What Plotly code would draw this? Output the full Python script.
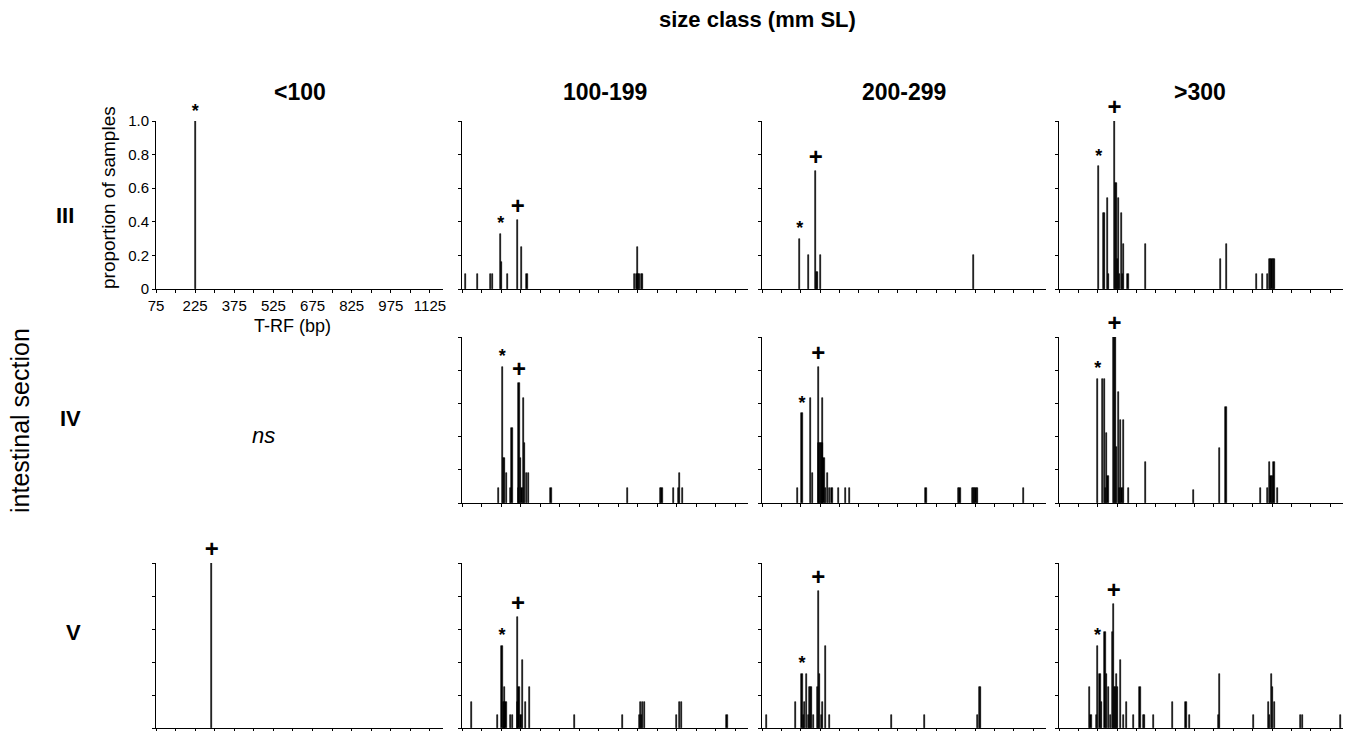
import plotly.graph_objects as go
from plotly.subplots import make_subplots

W, H = 1354, 731

row_labels = ["III", "IV", "V"]
col_labels = ["<100", "100-199", "200-299", ">300"]

x_tickvals = [75, 150, 225, 300, 375, 450, 525, 600, 675, 750, 825, 900, 975, 1050, 1125]
x_ticktext = ["75", "", "225", "", "375", "", "525", "", "675", "", "825", "", "975", "", "1125"]
y_tickvals = [0, 0.2, 0.4, 0.6, 0.8, 1.0]
y_ticktext = ["0", "0.2", "0.4", "0.6", "0.8", "1.0"]

# ---- section III ----
bp_III_lt100 = [225]
h_III_lt100 = [1.0]
bp_III_100 = [87, 135, 183, 193, 224, 228, 250, 289, 303, 325, 738, 748, 751, 754, 759, 764, 768]
h_III_100 = [0.09, 0.09, 0.09, 0.09, 0.33, 0.16, 0.09, 0.41, 0.25, 0.09, 0.09, 0.09, 0.25, 0.09, 0.09, 0.09, 0.09]
bp_III_200 = [221, 256, 283, 286, 290, 301, 894]
h_III_200 = [0.30, 0.20, 0.70, 0.10, 0.10, 0.20, 0.20]
bp_III_300 = [229, 247, 252, 263, 267, 290, 294, 298, 301, 306, 310, 317, 321, 326, 342, 410, 702, 725, 840, 863, 884, 890, 895, 900, 905, 910]
h_III_300 = [0.73, 0.45, 0.45, 0.54, 0.09, 1.0, 0.63, 0.63, 0.18, 0.54, 0.09, 0.45, 0.09, 0.27, 0.09, 0.27, 0.18, 0.27, 0.09, 0.09, 0.09, 0.18, 0.18, 0.18, 0.18, 0.18]

# ---- section IV ----
bp_IV_100 = [215, 230, 234, 238, 247, 263, 267, 292, 294, 299, 306, 311, 316, 322, 331, 417, 710, 839, 844, 887, 908, 913, 922]
h_IV_100 = [0.09, 0.82, 0.27, 0.27, 0.18, 0.09, 0.45, 0.09, 0.72, 0.27, 0.09, 0.63, 0.36, 0.18, 0.18, 0.09, 0.09, 0.09, 0.09, 0.09, 0.09, 0.18, 0.09]
bp_IV_200 = [212, 230, 263, 272, 293, 296, 300, 304, 308, 310, 315, 321, 330, 337, 346, 370, 399, 415, 710, 837, 842, 889, 894, 899, 904, 910, 1089]
h_IV_200 = [0.09, 0.54, 0.63, 0.18, 0.82, 0.36, 0.36, 0.36, 0.36, 0.63, 0.27, 0.09, 0.18, 0.09, 0.09, 0.09, 0.09, 0.09, 0.09, 0.09, 0.09, 0.09, 0.09, 0.09, 0.09, 0.09, 0.09]
bp_IV_300 = [225, 243, 250, 254, 260, 265, 287, 290, 293, 299, 304, 308, 313, 319, 326, 345, 411, 597, 698, 722, 857, 883, 890, 896, 902, 908, 920]
h_IV_300 = [0.75, 0.75, 0.75, 0.09, 0.42, 0.16, 1.0, 1.0, 1.0, 0.34, 0.67, 0.09, 0.50, 0.09, 0.50, 0.09, 0.25, 0.08, 0.33, 0.58, 0.09, 0.09, 0.25, 0.16, 0.16, 0.25, 0.09]

# ---- section V ----
bp_V_lt100 = [289]
h_V_lt100 = [1.0]
bp_V_100 = [111, 212, 229, 233, 238, 240, 244, 261, 269, 288, 290, 294, 302, 307, 319, 335, 508, 693, 757, 761, 765, 769, 776, 899, 912, 918, 1094]
h_V_100 = [0.16, 0.08, 0.50, 0.16, 0.16, 0.25, 0.16, 0.08, 0.08, 0.16, 0.67, 0.25, 0.08, 0.41, 0.16, 0.25, 0.08, 0.08, 0.08, 0.16, 0.08, 0.16, 0.16, 0.08, 0.16, 0.16, 0.08]
bp_V_200 = [93, 206, 230, 235, 240, 246, 255, 258, 262, 266, 275, 290, 293, 298, 306, 310, 321, 337, 575, 706, 911, 916, 921]
h_V_200 = [0.08, 0.16, 0.33, 0.08, 0.16, 0.33, 0.08, 0.25, 0.25, 0.25, 0.08, 0.25, 0.83, 0.33, 0.08, 0.16, 0.50, 0.08, 0.08, 0.08, 0.08, 0.25, 0.25]
bp_V_300 = [194, 199, 219, 224, 234, 239, 253, 258, 267, 274, 283, 287, 290, 295, 298, 302, 312, 324, 337, 362, 389, 401, 406, 440, 516, 567, 579, 693, 696, 828, 885, 890, 899, 903, 911, 1010, 1017, 1165]
h_V_300 = [0.25, 0.08, 0.08, 0.50, 0.33, 0.16, 0.58, 0.33, 0.25, 0.08, 0.58, 0.75, 0.25, 0.25, 0.33, 0.25, 0.41, 0.08, 0.16, 0.08, 0.25, 0.08, 0.08, 0.08, 0.16, 0.16, 0.08, 0.08, 0.33, 0.08, 0.16, 0.08, 0.33, 0.25, 0.16, 0.08, 0.08, 0.08]

# marked peaks (T-RF bp): "*" and "+"
star_bp = {(1, 1): 225, (1, 2): 224, (1, 3): 221, (1, 4): 229,
           (2, 2): 230, (2, 3): 230, (2, 4): 225,
           (3, 2): 229, (3, 3): 230, (3, 4): 224}
plus_bp = {(1, 2): 289, (1, 3): 283, (1, 4): 290,
           (2, 2): 294, (2, 3): 293, (2, 4): 290,
           (3, 1): 289, (3, 2): 290, (3, 3): 293, (3, 4): 287}

panels = {
    (1, 1): (bp_III_lt100, h_III_lt100),
    (1, 2): (bp_III_100, h_III_100),
    (1, 3): (bp_III_200, h_III_200),
    (1, 4): (bp_III_300, h_III_300),
    (2, 2): (bp_IV_100, h_IV_100),
    (2, 3): (bp_IV_200, h_IV_200),
    (2, 4): (bp_IV_300, h_IV_300),
    (3, 1): (bp_V_lt100, h_V_lt100),
    (3, 2): (bp_V_100, h_V_100),
    (3, 3): (bp_V_200, h_V_200),
    (3, 4): (bp_V_300, h_V_300),
}

# panel frames in page pixels
col_px = [(156, 443), (462, 748), (762, 1046), (1059, 1343)]
row_px = [(121, 289), (337, 503), (563, 728)]

FONT = "Liberation Sans, Arial, sans-serif"


def fx(px):
    return px / W


def fy(py):
    return 1 - py / H


fig = make_subplots(rows=3, cols=4)

for (r, c), (bps, hs) in panels.items():
    fig.add_trace(go.Bar(x=bps, y=hs, width=4.5,
                         marker=dict(color="black", line=dict(color="black", width=0.6)),
                         showlegend=False, hoverinfo="x+y"), row=r, col=c)
    lookup = {}
    for b, h in zip(bps, hs):
        lookup[b] = max(lookup.get(b, 0), h)
    if (r, c) in star_bp:
        b = star_bp[(r, c)]
        fig.add_trace(go.Scatter(x=[b], y=[lookup[b]], mode="text", text=["<b>*</b>"],
                                 textposition="top center", cliponaxis=False,
                                 textfont=dict(family=FONT, size=18, color="black"),
                                 showlegend=False, hoverinfo="skip"), row=r, col=c)
    if (r, c) in plus_bp:
        b = plus_bp[(r, c)]
        fig.add_trace(go.Scatter(x=[b], y=[lookup[b]], mode="text", text=["<b>+</b>"],
                                 textposition="top center", cliponaxis=False,
                                 textfont=dict(family=FONT, size=24, color="black"),
                                 showlegend=False, hoverinfo="skip"), row=r, col=c)

for r in range(1, 4):
    for c in range(1, 5):
        x0, x1 = col_px[c - 1]
        y0, y1 = row_px[r - 1]
        xd = [fx(x0), fx(x1)]
        yd = [fy(y1), fy(y0)]
        labeled = (r == 1 and c == 1)
        empty = (r == 2 and c == 1)
        fig.update_xaxes(domain=xd, range=[75, 1175], showgrid=False, zeroline=False,
                         automargin=False,
                         showline=not empty, linecolor="black", linewidth=1,
                         ticks="" if empty else "outside", ticklen=3, tickwidth=1, tickcolor="black",
                         tickvals=x_tickvals, ticktext=x_ticktext,
                         showticklabels=labeled,
                         tickfont=dict(family=FONT, size=15, color="black"),
                         row=r, col=c)
        fig.update_yaxes(domain=yd, range=[0, 1], showgrid=False, zeroline=False,
                         automargin=False,
                         showline=not empty, linecolor="black", linewidth=1,
                         ticks="" if empty else "outside", ticklen=3, tickwidth=1, tickcolor="black",
                         tickvals=y_tickvals, ticktext=y_ticktext,
                         showticklabels=labeled,
                         tickfont=dict(family=FONT, size=15, color="black"),
                         row=r, col=c)

annotations = []


def add_text(txt, px, py, size, bold=False, italic=False, angle=0):
    t = txt
    if bold:
        t = "<b>" + t + "</b>"
    if italic:
        t = "<i>" + t + "</i>"
    annotations.append(dict(text=t, x=fx(px), y=fy(py), xref="paper", yref="paper",
                            xanchor="center", yanchor="middle", showarrow=False, textangle=angle,
                            font=dict(family=FONT, size=size, color="black")))


add_text("size class (mm SL)", 757, 20, 22, bold=True)
col_centers = [300, 605, 904, 1200]
for lab, cx in zip(col_labels, col_centers):
    add_text(lab.replace("<", "&lt;").replace(">", "&gt;"), cx, 92, 23, bold=True)
row_label_pos = [(65, 215), (70, 418), (73, 632)]
for lab, (px, py) in zip(row_labels, row_label_pos):
    add_text(lab, px, py, 22, bold=True)
add_text("intestinal section", 20, 421, 25, angle=-90)
add_text("ns", 263, 435, 22, italic=True)
add_text("proportion of samples", 108, 198, 19, angle=-90)
add_text("T-RF (bp)", 292, 326, 18)

fig.update_layout(width=W, height=H, margin=dict(l=0, r=0, t=0, b=0, autoexpand=False),
                  paper_bgcolor="white", plot_bgcolor="white",
                  bargap=0, annotations=annotations, showlegend=False,
                  font=dict(family=FONT, color="black"))

fig.write_html("out.html", config={"displayModeBar": False},
               post_script="document.body.style.margin='0px';document.body.style.overflow='hidden';")
